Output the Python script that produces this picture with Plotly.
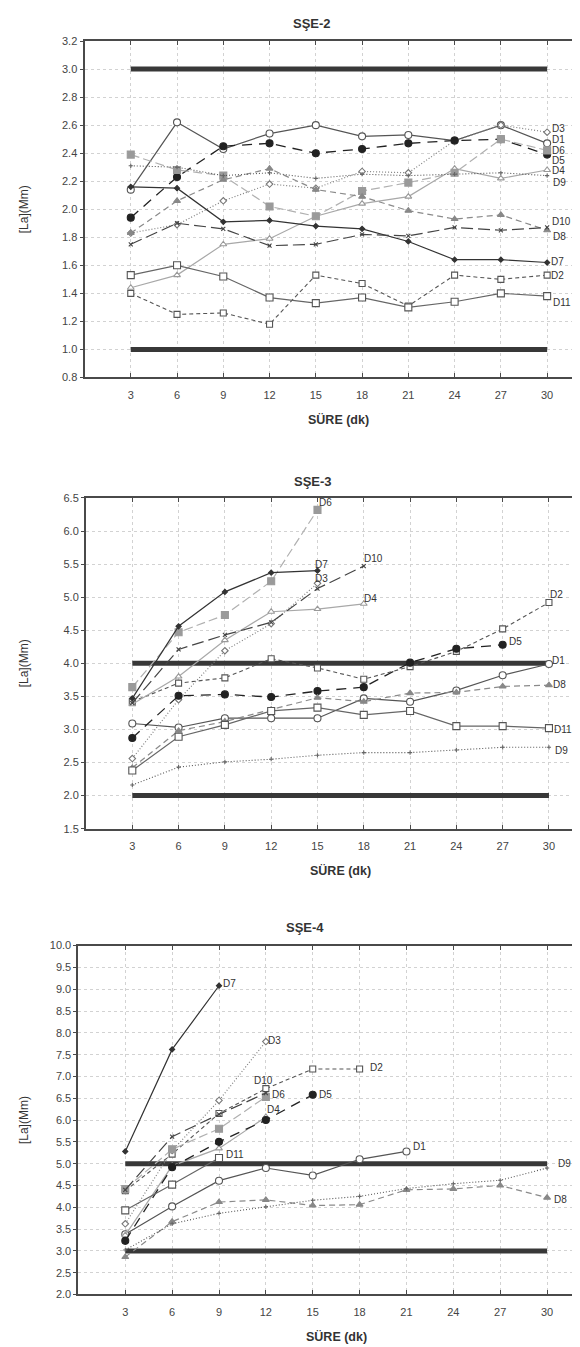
import plotly.graph_objects as go

# ---------------- data ----------------
times = [3, 6, 9, 12, 15, 18, 21, 24, 27, 30]
x_ticks = [3, 6, 9, 12, 15, 18, 21, 24, 27, 30]
series_names = ["D1", "D2", "D3", "D4", "D5", "D6", "D7", "D8", "D9", "D10", "D11"]
panel_titles = ["SŞE-2", "SŞE-3", "SŞE-4"]
x_title = "SÜRE (dk)"
y_title = "[La](Mm)"

# SŞE-2
s2_D1 = [2.14, 2.62, 2.43, 2.54, 2.60, 2.52, 2.53, 2.49, 2.60, 2.47]
s2_D2 = [1.40, 1.25, 1.26, 1.18, 1.53, 1.47, 1.31, 1.53, 1.50, 1.53]
s2_D3 = [1.83, 1.89, 2.06, 2.18, 2.15, 2.27, 2.26, 2.49, 2.60, 2.55]
s2_D4 = [1.44, 1.53, 1.75, 1.79, 1.95, 2.04, 2.09, 2.29, 2.22, 2.28]
s2_D5 = [1.94, 2.23, 2.45, 2.47, 2.40, 2.43, 2.47, 2.49, 2.50, 2.39]
s2_D6 = [2.39, 2.28, 2.24, 2.02, 1.95, 2.13, 2.19, 2.26, 2.50, 2.42]
s2_D7 = [2.16, 2.15, 1.91, 1.92, 1.88, 1.86, 1.77, 1.64, 1.64, 1.62]
s2_D8 = [1.83, 2.06, 2.21, 2.29, 2.14, 2.09, 1.99, 1.93, 1.96, 1.85]
s2_D9 = [2.31, 2.30, 2.24, 2.26, 2.22, 2.25, 2.24, 2.25, 2.26, 2.24]
s2_D10 = [1.75, 1.90, 1.86, 1.74, 1.75, 1.82, 1.81, 1.87, 1.85, 1.87]
s2_D11 = [1.53, 1.60, 1.52, 1.37, 1.33, 1.37, 1.30, 1.34, 1.40, 1.38]
s2_limits = [1.0, 3.0]

# SŞE-3
s3_D1 = [3.09, 3.03, 3.17, 3.17, 3.17, 3.47, 3.42, 3.59, 3.82, 3.99]
s3_D2 = [3.42, 3.70, 3.78, 4.07, 3.93, 3.76, 3.95, 4.18, 4.52, 4.92]
s3_D3 = [2.56, 3.45, 4.19, 4.60, 5.21]
s3_D4 = [3.38, 3.80, 4.35, 4.78, 4.82, 4.90]
s3_D5 = [2.87, 3.51, 3.53, 3.49, 3.58, 3.64, 4.01, 4.22, 4.28]
s3_D6 = [3.64, 4.47, 4.73, 5.24, 6.32]
s3_D7 = [3.47, 4.56, 5.08, 5.37, 5.40]
s3_D8 = [2.42, 2.98, 3.12, 3.30, 3.48, 3.42, 3.55, 3.56, 3.65, 3.67]
s3_D9 = [2.16, 2.43, 2.51, 2.55, 2.61, 2.65, 2.65, 2.69, 2.73, 2.73]
s3_D10 = [3.40, 4.21, 4.43, 4.62, 5.13, 5.47]
s3_D11 = [2.38, 2.89, 3.07, 3.28, 3.33, 3.22, 3.28, 3.05, 3.05, 3.02]
s3_limits = [2.0, 4.0]

# SŞE-4
s4_D1 = [3.38, 4.02, 4.61, 4.90, 4.73, 5.10, 5.28]
s4_D2 = [4.38, 5.22, 6.15, 6.72, 7.17, 7.17]
s4_D3 = [3.62, 5.30, 6.45, 7.80]
s4_D4 = [3.36, 4.95, 5.35, 6.07]
s4_D5 = [3.23, 4.92, 5.50, 6.00, 6.58]
s4_D6 = [4.42, 5.33, 5.80, 6.53]
s4_D7 = [5.28, 7.62, 9.08]
s4_D8 = [2.86, 3.67, 4.12, 4.17, 4.04, 4.06, 4.40, 4.42, 4.50, 4.22]
s4_D9 = [3.02, 3.62, 3.86, 4.01, 4.16, 4.25, 4.43, 4.54, 4.62, 4.90]
s4_D10 = [4.40, 5.62, 6.13, 6.62]
s4_D11 = [3.93, 4.52, 5.13]
s4_limits = [3.0, 5.0]

panel_series = [
    [s2_D1, s2_D2, s2_D3, s2_D4, s2_D5, s2_D6, s2_D7, s2_D8, s2_D9, s2_D10, s2_D11],
    [s3_D1, s3_D2, s3_D3, s3_D4, s3_D5, s3_D6, s3_D7, s3_D8, s3_D9, s3_D10, s3_D11],
    [s4_D1, s4_D2, s4_D3, s4_D4, s4_D5, s4_D6, s4_D7, s4_D8, s4_D9, s4_D10, s4_D11],
]
panel_limits = [s2_limits, s3_limits, s4_limits]

# ---------------- styles ----------------
FONT = "Liberation Sans, Arial, sans-serif"
W, H = 580, 1347
style = {
    "D1": dict(color="#555555", dash="solid", width=1.2, symbol="circle", size=7, fill="white", mline="#555555"),
    "D2": dict(color="#555555", dash="4px,3px", width=1.1, symbol="square", size=6, fill="white", mline="#555555"),
    "D3": dict(color="#808080", dash="1px,2px", width=1.2, symbol="diamond", size=5, fill="white", mline="#777777"),
    "D4": dict(color="#a8a8a8", dash="solid", width=1.2, symbol="triangle-up", size=6, fill="white", mline="#999999"),
    "D5": dict(color="#222222", dash="10px,7px", width=1.3, symbol="circle", size=7, fill="#222222", mline="#222222"),
    "D6": dict(color="#b0b0b0", dash="9px,4px", width=1.2, symbol="square", size=7, fill="#9a9a9a", mline="#9a9a9a"),
    "D7": dict(color="#333333", dash="solid", width=1.2, symbol="diamond", size=4, fill="#333333", mline="#333333"),
    "D8": dict(color="#8a8a8a", dash="6px,4px", width=1.2, symbol="triangle-up", size=6, fill="#888888", mline="#888888"),
    "D9": dict(color="#555555", dash="1px,2px", width=1.1, symbol="cross-thin", size=3, fill="#555555", mline="#666666"),
    "D10": dict(color="#444444", dash="12px,5px", width=1.2, symbol="x-thin", size=4, fill="#444444", mline="#444444"),
    "D11": dict(color="#666666", dash="solid", width=1.2, symbol="square", size=7, fill="white", mline="#555555"),
}

# panel geometry in pixels
geom = [
    dict(left=76.5, top=27.3, bottom=366.7, xmax=32.65, ymin=0.8, ymax=3.2, dy=0.2, title_x=304, title_y=10),
    dict(left=78.0, top=488.3, bottom=822.0, xmax=32.53, ymin=1.5, ymax=6.5, dy=0.5, title_x=305, title_y=472),
    dict(left=70.4, top=940.0, bottom=1292.0, xmax=32.62, ymin=2.0, ymax=10.0, dy=0.5, title_x=297, title_y=922),
]

# label placement: (series, anchor x, label y, xshift px)
labels = [
    [("D3", 30, 2.575, 4), ("D1", 30, 2.495, 4), ("D6", 30, 2.42, 4), ("D5", 30, 2.348, 4),
     ("D4", 30, 2.275, 4), ("D9", 30, 2.193, 5), ("D10", 30, 1.91, 4), ("D8", 30, 1.808, 5),
     ("D7", 30, 1.624, 3), ("D2", 30, 1.53, 3), ("D11", 30, 1.334, 5)],
    [("D6", 15, 6.435, 1), ("D7", 15, 5.495, -3), ("D3", 15, 5.275, -3), ("D10", 18, 5.585, -1),
     ("D4", 18, 4.975, -1), ("D2", 30, 5.035, 0), ("D5", 27, 4.325, 5), ("D1", 30, 4.04, 2),
     ("D8", 30, 3.675, 3), ("D11", 30, 3.0, 4), ("D9", 30, 2.675, 5)],
    [("D7", 9, 9.135, 3), ("D3", 12, 7.835, 1), ("D10", 12, 6.91, -13), ("D6", 12, 6.59, 5),
     ("D4", 12, 6.235, 0), ("D2", 18, 7.2, 9), ("D5", 15, 6.576, 5), ("D1", 21, 5.40, 6),
     ("D11", 9, 5.21, 6), ("D9", 30, 5.0, 10), ("D8", 30, 4.18, 6)],
]

fig = go.Figure()
annotations = []
layout_axes = {}

for p in range(3):
    g = geom[p]
    ax = "" if p == 0 else str(p + 1)
    xref, yref = "x" + ax, "y" + ax

    for lv in panel_limits[p]:
        fig.add_trace(go.Scatter(x=[times[0], times[-1]], y=[lv, lv], mode="lines",
                                 line=dict(color="#383838", width=5), hoverinfo="skip",
                                 showlegend=False, xaxis=xref, yaxis=yref))
    for name, vals in zip(series_names, panel_series[p]):
        s = style[name]
        fig.add_trace(go.Scatter(
            x=times[:len(vals)], y=vals, mode="lines+markers", name=name, showlegend=False,
            line=dict(color=s["color"], dash=s["dash"], width=s["width"]),
            marker=dict(symbol=s["symbol"], size=s["size"], color=s["fill"],
                        line=dict(color=s["mline"], width=1.1)),
            xaxis=xref, yaxis=yref))

    for name, lx, ly, xs in labels[p]:
        annotations.append(dict(x=lx, y=ly, xref=xref, yref=yref, text=name, showarrow=False,
                                xanchor="left", yanchor="middle", xshift=xs, borderpad=0,
                                font=dict(family=FONT, size=10, color="#333333")))

    annotations.append(dict(x=g["title_x"] / W, y=1 - g["title_y"] / H, xref="paper", yref="paper",
                            text="<b>%s</b>" % panel_titles[p], showarrow=False,
                            xanchor="center", yanchor="middle",
                            font=dict(family=FONT, size=13, color="#333333")))
    px_per = (W - g["left"]) / g["xmax"]
    center_x = g["left"] + px_per * (times[0] + times[-1]) / 2
    annotations.append(dict(x=center_x / W, y=1 - (g["bottom"] + 42) / H, xref="paper", yref="paper",
                            text="<b>%s</b>" % x_title, showarrow=False,
                            xanchor="center", yanchor="middle",
                            font=dict(family=FONT, size=12.5, color="#333333")))
    annotations.append(dict(x=16 / W, y=1 - (g["top"] + g["bottom"]) / 2 / H, xref="paper", yref="paper",
                            text=y_title, showarrow=False, textangle=-90,
                            xanchor="center", yanchor="middle",
                            font=dict(family=FONT, size=12, color="#333333")))

    layout_axes["xaxis" + ax] = dict(
        domain=[g["left"] / W, 1.0], range=[0, g["xmax"]], anchor=yref,
        tickmode="array", tickvals=x_ticks, ticktext=[str(t) for t in x_ticks],
        showgrid=True, gridcolor="#d2d2d2", griddash="dot", gridwidth=1,
        showline=True, linecolor="#4a4a4a", linewidth=2, mirror="allticks",
        ticks="inside", ticklen=4, tickcolor="#4a4a4a", ticklabelstandoff=6,
        tickfont=dict(family=FONT, size=11, color="#444444"), zeroline=False, fixedrange=True)
    ntk = int(round((g["ymax"] - g["ymin"]) / g["dy"])) + 1
    ytv = [round(g["ymin"] + i * g["dy"], 2) for i in range(ntk)]
    layout_axes["yaxis" + ax] = dict(
        domain=[1 - g["bottom"] / H, 1 - g["top"] / H], range=[g["ymin"], g["ymax"]], anchor=xref,
        tickmode="array", tickvals=ytv, ticktext=["%.1f" % v for v in ytv],
        showgrid=True, gridcolor="#d2d2d2", griddash="dot", gridwidth=1,
        showline=True, linecolor="#4a4a4a", linewidth=2, mirror=False,
        ticks="outside", ticklen=3, tickcolor="#4a4a4a",
        tickfont=dict(family=FONT, size=11, color="#444444"), zeroline=False, fixedrange=True)

fig.update_layout(
    width=W, height=H, margin=dict(l=0, r=0, t=0, b=0),
    paper_bgcolor="white", plot_bgcolor="white",
    annotations=annotations, showlegend=False, **layout_axes)

fig.write_html("out.html")
